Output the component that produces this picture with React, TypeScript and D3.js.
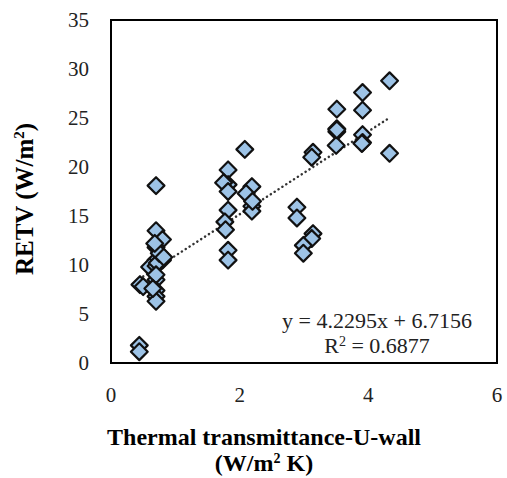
import React from "react";
import * as d3 from "d3";

const uWall: number[] = [
  0.45, 0.5, 0.44, 0.44,
  0.7, 0.7, 0.8, 0.7, 0.7, 0.8, 0.6, 0.7, 0.72, 0.7, 0.7, 0.7, 0.7, 0.7, 0.65, 0.75, 0.82, 0.68,
  1.82, 1.82, 1.75, 1.82, 2.19, 2.1, 2.19, 2.19, 1.82, 1.77, 1.78, 1.82, 1.82, 2.08, 2.2,
  2.89, 2.89, 3.14, 3.12, 2.99, 2.99, 3.14, 3.12,
  3.51, 3.51, 3.51, 3.5, 3.51,
  3.91, 3.91, 3.91, 3.91, 3.9,
  4.33, 4.33,
];
const retv: number[] = [
  8.0, 7.8, 1.8, 1.15,
  18.1, 13.5, 12.6, 11.8, 10.5, 10.5, 9.8, 9.9, 10.2, 8.5, 9.0, 7.4, 6.8, 6.3, 7.6, 11.2, 10.8, 12.2,
  19.7, 18.2, 18.4, 17.5, 18.0, 17.3, 16.0, 15.5, 15.6, 14.4, 13.6, 11.5, 10.5, 21.8, 16.5,
  15.9, 14.8, 13.2, 12.7, 12.0, 11.2, 21.5, 21.0,
  25.9, 23.9, 23.6, 22.2, 23.8,
  27.6, 25.8, 23.3, 22.5, 22.4,
  28.8, 21.4,
];
const xTicks: number[] = [0, 2, 4, 6];
const yTicks: number[] = [0, 5, 10, 15, 20, 25, 30, 35];
const slope = 4.2295;
const intercept = 6.7156;
const r2 = 0.6877;

const FONT = "Liberation Serif, Tinos, Times New Roman, DejaVu Serif, serif";

export default function App() {
  const W = 507, H = 478;
  const x = d3.scaleLinear().domain([0, 6]).range([111, 497]);
  const y = d3.scaleLinear().domain([0, 35]).range([363, 20]);
  const xMin = d3.min(uWall) as number;
  const xMax = d3.max(uWall) as number;
  const diamond = d3.symbol().type(d3.symbolDiamond2).size(180)();
  const pts = uWall.map((u, i) => [u, retv[i]] as [number, number]);
  const txt = { fontFamily: FONT } as React.CSSProperties;

  return (
    <svg width={W} height={H} style={{ position: "absolute", left: 0, top: 0, background: "#fff" }}>
      <rect x={0} y={0} width={W} height={H} fill="#fff" />
      <line
        x1={x(xMin)} y1={y(slope * xMin + intercept)}
        x2={x(xMax)} y2={y(slope * xMax + intercept)}
        stroke="#333" strokeWidth={2.5} strokeDasharray="0.1 4.5" strokeLinecap="round"
      />
      {pts.map((p, i) => (
        <path key={i} d={diamond as string} transform={`translate(${x(p[0])},${y(p[1])})`}
          fill="#9dc3e6" stroke="#111" strokeWidth={2.2} strokeLinejoin="round" />
      ))}
      <rect x={x(0)} y={y(35)} width={x(6) - x(0)} height={y(0) - y(35)} fill="none" stroke="#000" strokeWidth={2} />
      {yTicks.map((t) => (
        <text key={t} x={89} y={y(t)} dy="0.35em" textAnchor="end" style={txt} fontSize={21} fill="#222">{t}</text>
      ))}
      {xTicks.map((t) => (
        <text key={t} x={x(t)} y={402} textAnchor="middle" style={txt} fontSize={21} fill="#222">{t}</text>
      ))}
      <text transform={`translate(33,199) rotate(-90)`} textAnchor="middle" style={txt} fontSize={25} fontWeight="bold" fill="#000">
        RETV (W/m<tspan dy={-9} fontSize={15}>2</tspan><tspan dy={9}>)</tspan>
      </text>
      <text x={264} y={445} textAnchor="middle" style={txt} fontSize={24} fontWeight="bold" fill="#000">Thermal transmittance-U-wall</text>
      <text x={264} y={471} textAnchor="middle" style={txt} fontSize={24} fontWeight="bold" fill="#000">
        (W/m<tspan dy={-8} fontSize={14}>2</tspan><tspan dy={8}> K)</tspan>
      </text>
      <text x={377} y={328} textAnchor="middle" style={txt} fontSize={22} fill="#222">
        {`y = ${slope}x + ${intercept}`}
      </text>
      <text x={377} y={353} textAnchor="middle" style={txt} fontSize={22} fill="#222">
        R<tspan dy={-7} fontSize={14}>2</tspan><tspan dy={7}>{` = ${r2}`}</tspan>
      </text>
    </svg>
  );
}
